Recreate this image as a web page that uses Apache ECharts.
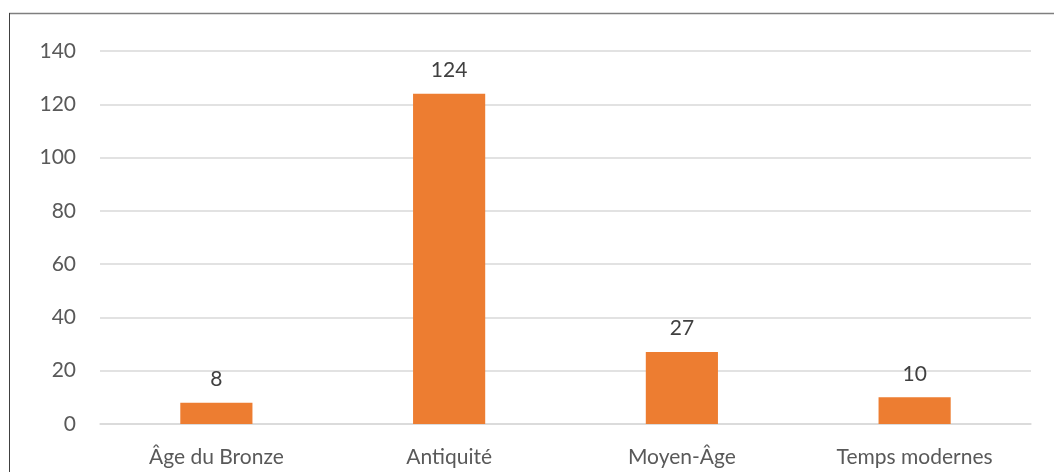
<!DOCTYPE html>
<html><head><meta charset="utf-8">
<script src="https://cdn.jsdelivr.net/npm/echarts@6/dist/echarts.min.js"></script>
<style>html,body{margin:0;padding:0;background:#fff}#c{width:1054px;height:472px}</style>
</head><body><div id="c"></div>
<script>
const categories = ['Âge du Bronze', 'Antiquité', 'Moyen-Âge', 'Temps modernes'];
const values = [8, 124, 27, 10];
const yMin = 0, yMax = 140, yStep = 20;

const chart = echarts.init(document.getElementById('c'), null, {renderer: 'canvas'});
const font = 'Lato, "Open Sans", sans-serif';
chart.setOption({
  animation: false,
  backgroundColor: '#fff',
  grid: {left: 100, right: 23, top: 51, bottom: 48, containLabel: false},
  xAxis: {
    type: 'category', data: categories,
    axisLine: {show: true, lineStyle: {color: '#d9d9d9', width: 1.5}},
    axisTick: {show: false},
    axisLabel: {color: '#595959', fontSize: 21, fontFamily: font, margin: 23}
  },
  yAxis: {
    type: 'value', min: yMin, max: yMax, interval: yStep,
    axisLine: {show: false}, axisTick: {show: false},
    splitLine: {lineStyle: {color: '#d9d9d9', width: 1.5}},
    axisLabel: {color: '#595959', fontSize: 21, fontFamily: font, margin: 24}
  },
  series: [{
    type: 'bar', data: values, barWidth: '31%',
    itemStyle: {color: '#ED7D31'},
    label: {show: true, position: 'top', distance: 13, color: '#404040', fontSize: 21, fontFamily: font}
  }],
  graphic: [
    {type: 'line', shape: {x1: 9, y1: 13.5, x2: 1054, y2: 13.5}, style: {stroke: '#7f7f7f', lineWidth: 1.5}, silent: true},
    {type: 'line', shape: {x1: 9.5, y1: 13, x2: 9.5, y2: 472}, style: {stroke: '#404040', lineWidth: 1}, silent: true}
  ]
});
</script></body></html>
